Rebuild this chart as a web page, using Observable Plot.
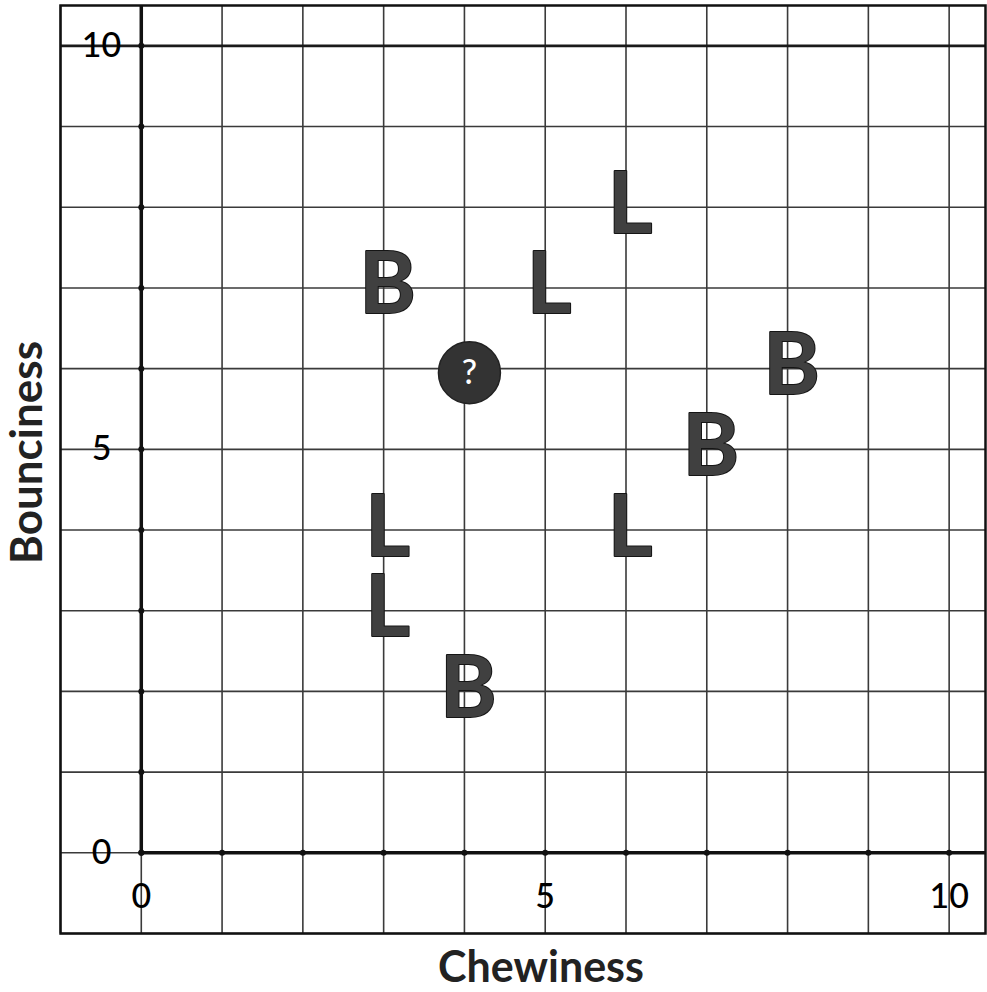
<!DOCTYPE html>
<html><head><meta charset="utf-8">
<script src="https://cdn.jsdelivr.net/npm/d3@7"></script>
<script src="https://cdn.jsdelivr.net/npm/@observablehq/plot@0.6"></script>
<style>body{margin:0;background:#fff} svg{display:block}</style>
</head><body><div id="chart"></div>
<script>
// Grid lines (one unit apart) and labelled ticks
const xGrid = [-1, 0, 1, 2, 3, 4, 5, 6, 7, 8, 9, 10];
const yGrid = [-1, 0, 1, 2, 3, 4, 5, 6, 7, 8, 9, 10];
const xTicks = [0, 5, 10];
const yTicks = [0, 5, 10];

// Labelled sweets: L / B
const pointLabel = ["L", "L", "B", "B", "B", "L", "L", "L", "B"];
const chewiness  = [6, 5, 3, 8, 7, 3, 6, 3, 4];
const bounciness = [8, 7, 7, 6, 5, 4, 4, 3, 2];

// Unknown sweet
const unknownChewiness = [4];
const unknownBounciness = [6];

const xLabel = "Chewiness";
const yLabel = "Bounciness";

const idx = pointLabel.map((_, i) => i);
const axisDotsY = yGrid.filter(v => v >= 0);
const axisDotsX = xGrid.filter(v => v >= 0);

const chart = Plot.plot({
  width: 987,
  height: 992,
  marginLeft: 60,
  marginRight: 2,
  marginTop: 5,
  marginBottom: 59,
  x: {domain: [-1, 10.45], axis: null},
  y: {domain: [-1, 10.5], axis: null},
  style: {background: "#fff", fontFamily: "Lato, 'Open Sans', sans-serif"},
  marks: [
    Plot.ruleX(xGrid, {stroke: "#3a3a3a", strokeWidth: 1.6}),
    Plot.ruleY(yGrid, {stroke: "#3a3a3a", strokeWidth: 1.6}),
    Plot.ruleY([10], {stroke: "#1a1a1a", strokeWidth: 2.8}),
    Plot.ruleX([0], {y1: 0, y2: 10.5, stroke: "#111", strokeWidth: 3.5}),
    Plot.ruleY([0], {x1: 0, x2: 10.45, stroke: "#111", strokeWidth: 3.5}),
    Plot.frame({stroke: "#111", strokeWidth: 2.5}),
    Plot.dot(axisDotsY, {x: 0, y: d => d, r: 3, fill: "#111"}),
    Plot.dot(axisDotsX, {x: d => d, y: 0, r: 3, fill: "#111"}),
    // tick labels
    Plot.text(yTicks, {y: d => d, text: d => String(d), frameAnchor: "left", textAnchor: "middle", lineAnchor: "middle", dx: 41, fontSize: 34, fontWeight: 500, fill: "#000"}),
    Plot.text(xTicks, {x: d => d, text: d => String(d), frameAnchor: "bottom", textAnchor: "middle", lineAnchor: "middle", dy: -36, fontSize: 34, fontWeight: 500, fill: "#000"}),
    // axis titles
    Plot.text([xLabel], {text: d => d, frameAnchor: "bottom", textAnchor: "middle", lineAnchor: "middle", dx: 18, dy: 35, fontSize: 43, fontWeight: "bold", fill: "#222"}),
    Plot.text([yLabel], {text: d => d, frameAnchor: "left", textAnchor: "middle", lineAnchor: "middle", rotate: -90, dx: -33, dy: -17, fontSize: 44, fontWeight: "bold", fill: "#222"}),
    // data letters
    Plot.text(idx, {
      x: i => chewiness[i], y: i => bounciness[i], text: i => pointLabel[i],
      fontSize: 86, fontWeight: "bold", fill: "#404040", stroke: "#151515", strokeWidth: 2,
      dx: 4, dy: -2
    }),
    // unknown point
    Plot.dot(unknownChewiness, {x: d => d, y: (d, i) => unknownBounciness[i], r: 31, fill: "#333", stroke: "#222", dx: 5, dy: 4}),
    Plot.text(unknownChewiness, {x: d => d, y: (d, i) => unknownBounciness[i], text: () => "?", fontSize: 34, fontWeight: 500, fill: "#fff", dx: 5, dy: 4})
  ]
});
document.getElementById("chart").appendChild(chart);
</script>
</body></html>
